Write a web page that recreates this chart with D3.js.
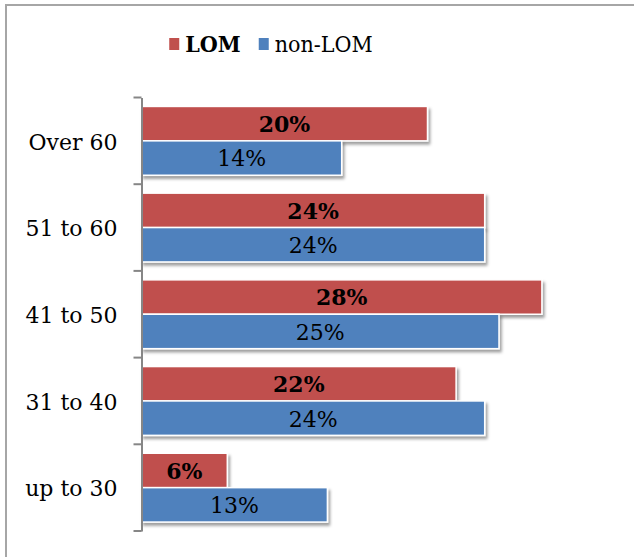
<!DOCTYPE html>
<html>
<head>
<meta charset="utf-8">
<script src="https://cdn.jsdelivr.net/npm/d3@7"></script>
<style>
    body { margin: 0; background: #fff; }
    svg { display: block; }
    text { font-family: "DejaVu Serif", "Liberation Serif", serif; fill: #000; }
</style>
</head>
<body>
<svg id="chart" width="634" height="557"></svg>
<script>
// age groups, top to bottom
var categories = ["Over 60", "51 to 60", "41 to 50", "31 to 40", "up to 30"];
var seriesNames = ["LOM", "non-LOM"];
var lomValues = [20, 24, 28, 22, 6];
var nonLomValues = [14, 24, 25, 24, 13];

var colors = { "LOM": "#C0504D", "non-LOM": "#4F81BD" };

var svg = d3.select("#chart");

// outer frame of the chart area
svg.append("rect")
    .attr("x", 6).attr("y", 5)
    .attr("width", 720).attr("height", 640)
    .attr("fill", "none")
    .attr("stroke", "#a6a6a6")
    .attr("stroke-width", 2);

var defs = svg.append("defs");
defs.append("filter")
    .attr("id", "shadow")
    .attr("x", "-10%").attr("y", "-20%")
    .attr("width", "130%").attr("height", "160%")
    .append("feDropShadow")
    .attr("dx", 2).attr("dy", 3)
    .attr("stdDeviation", 1.6)
    .attr("flood-color", "#000")
    .attr("flood-opacity", 0.38);

var x = d3.scaleLinear().domain([0, 30]).range([141.5, 570.5]);

var y = d3.scaleBand().domain(categories).range([97.5, 531]).padding(0);

var ySub = d3.scaleBand().domain(seriesNames)
    .range([0, y.bandwidth()])
    .paddingInner(0)
    .paddingOuter(0.26);

var rows = categories.map(function (c, i) {
    return { category: c, values: [
        { series: "LOM", value: lomValues[i] },
        { series: "non-LOM", value: nonLomValues[i] }
    ] };
});

var groups = svg.selectAll(".group")
    .data(rows)
    .enter().append("g")
    .attr("class", "group")
    .attr("transform", function (d) { return "translate(0," + y(d.category) + ")"; });

groups.selectAll(".bar")
    .data(function (d) { return d.values; })
    .enter().append("rect")
    .attr("class", "bar")
    .attr("x", x(0))
    .attr("y", function (d) { return ySub(d.series); })
    .attr("width", function (d) { return x(d.value) - x(0); })
    .attr("height", ySub.bandwidth())
    .attr("fill", function (d) { return colors[d.series]; })
    .attr("stroke", "#fff")
    .attr("stroke-width", 1.5)
    .attr("filter", "url(#shadow)");

groups.selectAll(".value")
    .data(function (d) { return d.values; })
    .enter().append("text")
    .attr("class", "value")
    .attr("x", function (d) { return (x(0) + x(d.value)) / 2; })
    .attr("y", function (d) { return ySub(d.series) + ySub.bandwidth() / 2; })
    .attr("dy", "0.38em")
    .attr("text-anchor", "middle")
    .style("font-size", "22px")
    .style("font-weight", function (d) { return d.series === "LOM" ? "bold" : "normal"; })
    .text(function (d) { return d.value + "%"; });

// category axis
var axis = svg.append("g")
    .attr("transform", "translate(" + x(0) + ",0)")
    .call(d3.axisLeft(y).tickSize(0).tickPadding(24));

axis.select(".domain")
    .attr("stroke", "#868686")
    .attr("stroke-width", 2);

axis.selectAll(".tick text")
    .attr("dy", "0.4em")
    .style("font-size", "22px")
    .style("font-family", "\"DejaVu Serif\", serif")
    .attr("fill", "#000");

// tick marks sit between categories
var bounds = categories.map(function (c) { return y(c); });
bounds.push(y(categories[categories.length - 1]) + y.bandwidth());

axis.selectAll(".cat-tick")
    .data(bounds)
    .enter().append("line")
    .attr("class", "cat-tick")
    .attr("x1", -8).attr("x2", 0)
    .attr("y1", function (d) { return d; })
    .attr("y2", function (d) { return d; })
    .attr("stroke", "#868686")
    .attr("stroke-width", 2);

// legend
var legend = svg.append("g").attr("class", "legend");
var lx = 0;
seriesNames.forEach(function (name, i) {
    var item = legend.append("g").attr("transform", "translate(" + lx + ",0)");
    item.append("rect")
        .attr("x", 0).attr("y", -14)
        .attr("width", 10).attr("height", 12)
        .attr("fill", colors[name]);
    var t = item.append("text")
        .attr("x", 16).attr("y", 0)
        .style("font-family", "\"DejaVu Serif Condensed\", \"DejaVu Serif\", serif")
        .style("font-stretch", "condensed")
        .style("font-size", "23px")
        .style("font-weight", i === 0 ? "bold" : "normal")
        .text(name);
    lx += 16 + t.node().getComputedTextLength() + 18;
});
var legendWidth = lx - 18;
legend.attr("transform", "translate(" + (271 - legendWidth / 2) + ",52)");
</script>
</body>
</html>
